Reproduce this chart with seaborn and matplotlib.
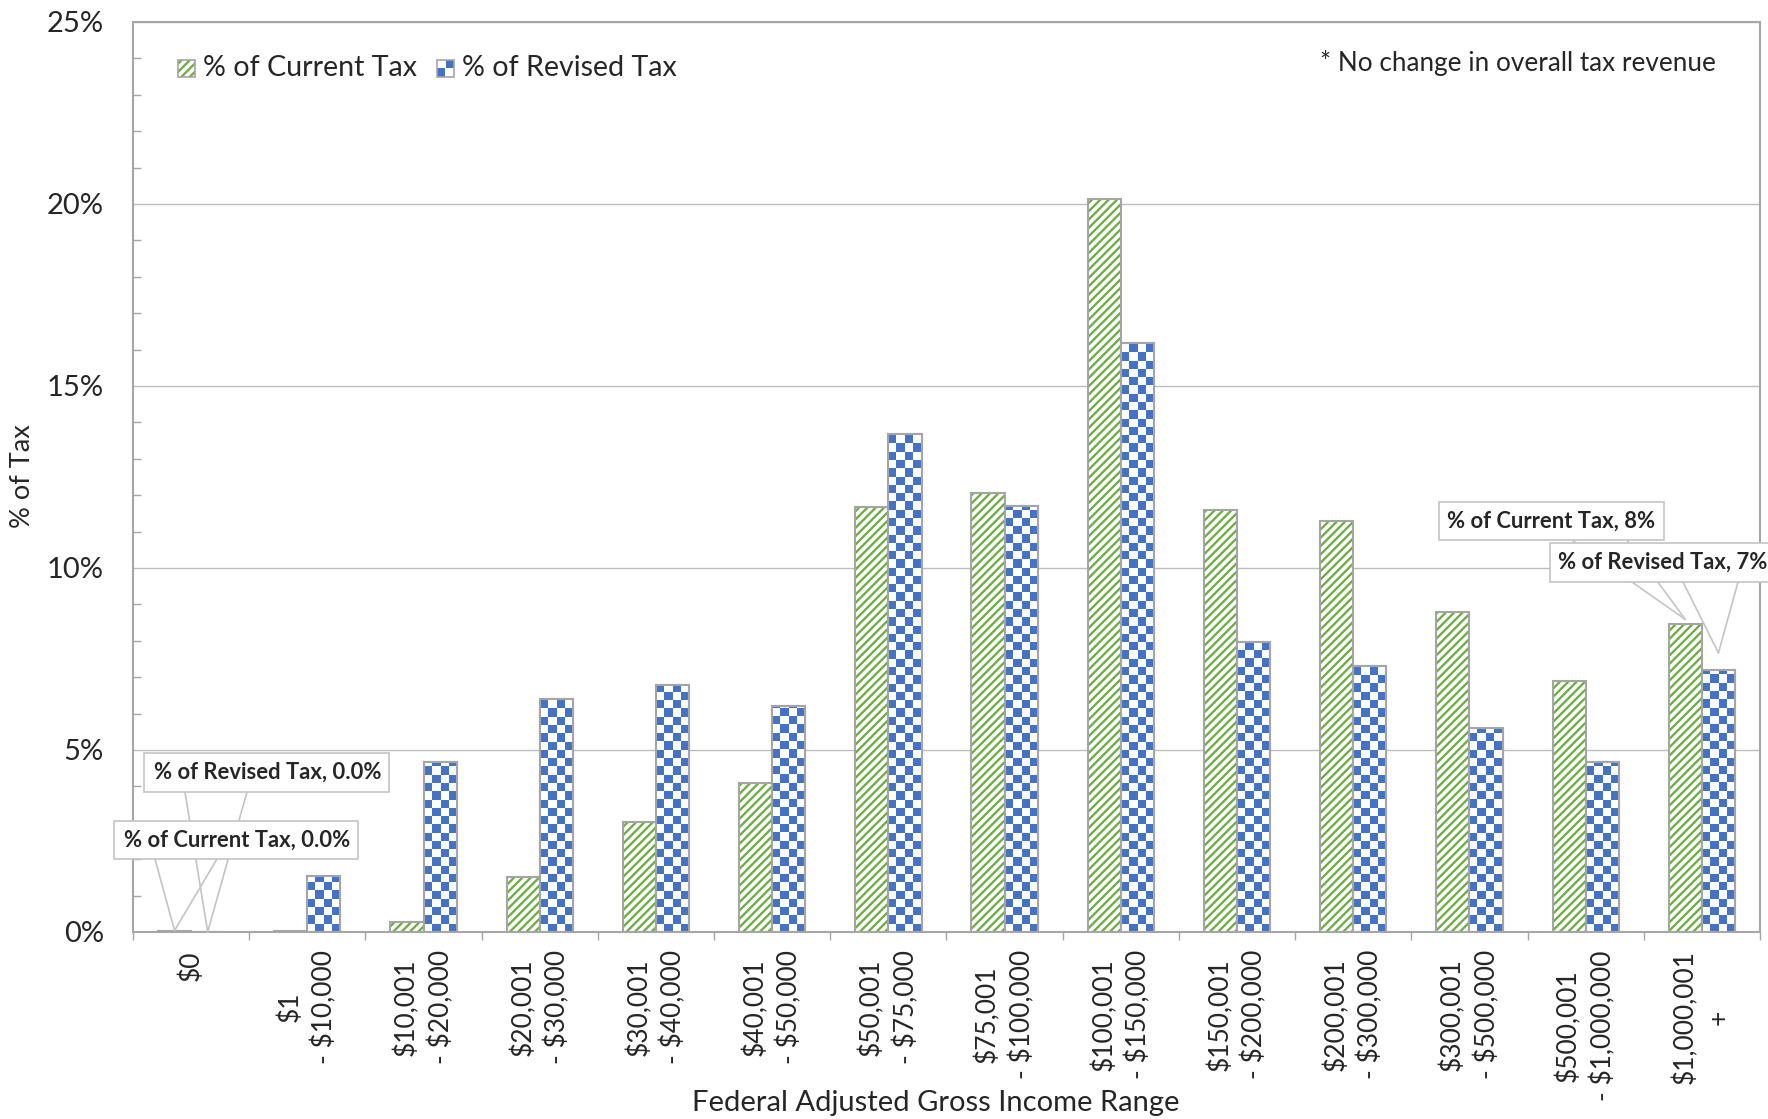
import numpy as np
import pandas as pd
import matplotlib
matplotlib.use("Agg")
import matplotlib.pyplot as plt
import seaborn as sns
from matplotlib.patches import Rectangle
from matplotlib.lines import Line2D
from matplotlib.colors import ListedColormap
from matplotlib.ticker import MultipleLocator, FixedLocator

# ---- data -------------------------------------------------------------
brackets = [
    "$0", "$1\n- $10,000", "$10,001\n- $20,000", "$20,001\n- $30,000",
    "$30,001\n- $40,000", "$40,001\n- $50,000", "$50,001\n- $75,000",
    "$75,001\n- $100,000", "$100,001\n- $150,000", "$150,001\n- $200,000",
    "$200,001\n- $300,000", "$300,001\n- $500,000",
    "$500,001\n- $1,000,000", "$1,000,001\n+",
]
current_tax = [0.04, 0.02, 0.28, 1.50, 3.03, 4.10, 11.67, 12.07, 20.14,
               11.60, 11.30, 8.79, 6.90, 8.45]
revised_tax = [0.0, 1.55, 4.67, 6.40, 6.78, 6.22, 13.68, 11.70, 16.18,
               7.98, 7.30, 5.60, 4.67, 7.20]
series_names = ["% of Current Tax", "% of Revised Tax"]
y_ticks = [0, 5, 10, 15, 20, 25]
note_text = "* No change in overall tax revenue"
x_title = "Federal Adjusted Gross Income Range"
y_title = "% of Tax"

# ---- style ------------------------------------------------------------
GREEN = "#70AD47"
BLUE = "#4472C4"
EDGE = "#A5A5A5"
GRID = "#BDBDBD"
SPINE = "#A6A6A6"
CALL = "#C4C4C4"

sns.set_style("white")
plt.rcParams["font.family"] = ["Lato", "DejaVu Sans"]
plt.rcParams["hatch.linewidth"] = 1.7

W, H = 1768, 1119
fig = plt.figure(figsize=(W / 100, H / 100), dpi=100)
ax = fig.add_axes([133 / W, 1 - 932 / H, 1627 / W, 910 / H])

df = pd.DataFrame({
    "bracket": brackets * 2,
    "share": current_tax + revised_tax,
    "series": [series_names[0]] * len(brackets) + [series_names[1]] * len(brackets),
})

sns.barplot(data=df, x="bracket", y="share", hue="series", order=brackets,
            hue_order=series_names, width=0.57, palette=["white", "white"],
            saturation=1, edgecolor=EDGE, linewidth=1.5, errorbar=None,
            legend=False, ax=ax)

ax.set_xlim(-0.5, len(brackets) - 0.5)
ax.set_ylim(0, 25)

cur_bars = list(ax.containers[0])
rev_bars = list(ax.containers[1])


def outline(patch):
    r = Rectangle((patch.get_x(), patch.get_y()), patch.get_width(),
                  patch.get_height(), fill=False, ec=EDGE, lw=1.5,
                  zorder=patch.get_zorder() + 0.5)
    ax.add_patch(r)


# green diagonal stripes
for p in cur_bars:
    p.set_hatch("////")
    p.set_edgecolor(GREEN)
    p.set_linewidth(0)
    outline(p)


# blue checkerboard, drawn as a clipped image inside each bar
def checker_fill(patch, color, cell_px=8.3):
    x0, w, h = patch.get_x(), patch.get_width(), patch.get_height()
    if h <= 0:
        return
    px0, py0 = ax.transData.transform((x0, 0))
    px1, py1 = ax.transData.transform((x0 + w, h))
    nx = max(1, int(round((px1 - px0) / cell_px)))
    cell = (px1 - px0) / nx
    ny = int(np.ceil((py1 - py0) / cell))
    top = ax.transData.inverted().transform((px0, py0 + ny * cell))[1]
    grid = np.add.outer(np.arange(ny), np.arange(nx)) % 2
    im = ax.imshow(grid, extent=(x0, x0 + w, 0, top), origin="lower",
                   cmap=ListedColormap(["white", color]), vmin=0, vmax=1,
                   interpolation="nearest", aspect="auto",
                   zorder=patch.get_zorder() + 0.1)
    im.set_clip_path(patch)


for p in rev_bars:
    checker_fill(p, BLUE)
    outline(p)

ax.set_xlim(-0.5, len(brackets) - 0.5)
ax.set_ylim(0, 25)

# ---- axes styling -----------------------------------------------------
for s in ax.spines.values():
    s.set_color(SPINE)
    s.set_linewidth(1.5)
ax.yaxis.grid(True, color=GRID, lw=1.0)
ax.set_axisbelow(True)

ax.set_yticks(y_ticks)
ax.set_yticklabels([f"{t}%" for t in y_ticks])
ax.yaxis.set_minor_locator(MultipleLocator(1))
ax.tick_params(axis="y", which="major", length=0, pad=21, labelsize=21)
ax.tick_params(axis="y", which="minor", direction="in", length=5.8,
               width=1.0, color=SPINE, left=True, right=False)

ax.xaxis.set_minor_locator(FixedLocator(np.arange(-0.5, len(brackets), 1.0)))
ax.tick_params(axis="x", which="major", length=0, pad=13, labelsize=19)
ax.tick_params(axis="x", which="minor", direction="out", length=5.8,
               width=1.0, color=SPINE, bottom=True, top=False)
for lbl in ax.get_xticklabels():
    lbl.set_rotation(90)
    lbl.set_ha("center")
    lbl.set_va("top")
    lbl.set_multialignment("center")
    lbl.set_linespacing(1.4)

ax.set_xlabel(x_title, fontsize=21)
ax.xaxis.label.set_va("center")
ax.xaxis.set_label_coords((936 - 133) / 1627, (932 - 1103) / 910)
ax.set_ylabel(y_title, fontsize=19.5)
ax.yaxis.label.set_va("center")
ax.yaxis.set_label_coords((22 - 133) / 1627, (932 - 476) / 910)


# ---- figure-level helpers (pixel positions, y measured from top) ------
def fx(x):
    return x / W


def fy(y):
    return 1 - y / H


def bar_tip(patch, lift_px=0.0):
    disp = ax.transData.transform((patch.get_x() + patch.get_width() / 2,
                                   patch.get_height()))
    disp = disp + np.array([0.0, lift_px])
    return fig.transFigure.inverted().transform(disp)


def callout(text, box, text_x, base_xs, tip, z):
    x0, y0, x1, y1 = box
    for bx in base_xs:
        fig.add_artist(Line2D([fx(bx), tip[0]], [fy(y1), tip[1]],
                              transform=fig.transFigure, color=CALL,
                              lw=1.2, zorder=z))
    fig.add_artist(Rectangle((fx(x0), fy(y1)), fx(x1) - fx(x0),
                             fy(y0) - fy(y1), transform=fig.transFigure,
                             fc="white", ec=CALL, lw=1.2, zorder=z + 1))
    fig.text(fx(text_x), fy((y0 + y1) / 2), text, ha="left", va="center",
             fontsize=15.8, fontweight="bold", zorder=z + 2)


callout(f"{series_names[1]}, {revised_tax[0]:.1f}%", (144, 753, 389, 792),
        154, (185, 247), bar_tip(rev_bars[0]), 10)
callout(f"{series_names[0]}, {current_tax[0]:.1f}%", (114, 821, 358, 859),
        124, (155, 217), bar_tip(cur_bars[0]), 13)
callout(f"{series_names[0]}, {current_tax[-1]:.0f}%", (1439, 502, 1664, 540),
        1447, (1572, 1627), bar_tip(cur_bars[-1], 5), 10)
callout(f"{series_names[1]}, {revised_tax[-1]:.0f}%", (1550, 543, 1790, 582),
        1558, (1683, 1738), bar_tip(rev_bars[-1], 17), 13)

# ---- legend -----------------------------------------------------------
lg_y0, lg_y1 = 60, 77
fig.add_artist(Rectangle((fx(178), fy(lg_y1)), fx(195) - fx(178),
                         fy(lg_y0) - fy(lg_y1), transform=fig.transFigure,
                         fc="white", ec=GREEN, lw=0, hatch="////", zorder=5))
fig.add_artist(Rectangle((fx(178), fy(lg_y1)), fx(195) - fx(178),
                         fy(lg_y0) - fy(lg_y1), transform=fig.transFigure,
                         fill=False, ec=EDGE, lw=1.2, zorder=6))
fig.text(fx(203), fy(68.5), series_names[0], ha="left", va="center",
         fontsize=20.6, zorder=6)

cx0, cs = 437, 8.5
for i in range(2):
    for j in range(2):
        fig.add_artist(Rectangle((fx(cx0 + j * cs), fy(lg_y0 + (i + 1) * cs)),
                                 fx(cs), fy(0) - fy(cs),
                                 transform=fig.transFigure,
                                 fc=BLUE if (i + j) % 2 == 1 else "white",
                                 lw=0, zorder=5))
fig.add_artist(Rectangle((fx(cx0), fy(lg_y1)), fx(2 * cs),
                         fy(lg_y0) - fy(lg_y1), transform=fig.transFigure,
                         fill=False, ec=EDGE, lw=1.2, zorder=6))
fig.text(fx(462), fy(68.5), series_names[1], ha="left", va="center",
         fontsize=20.6, zorder=6)

fig.text(fx(1716), fy(63), note_text, ha="right", va="center", fontsize=18.8)

fig.savefig("out.png", dpi=100, facecolor="white")
